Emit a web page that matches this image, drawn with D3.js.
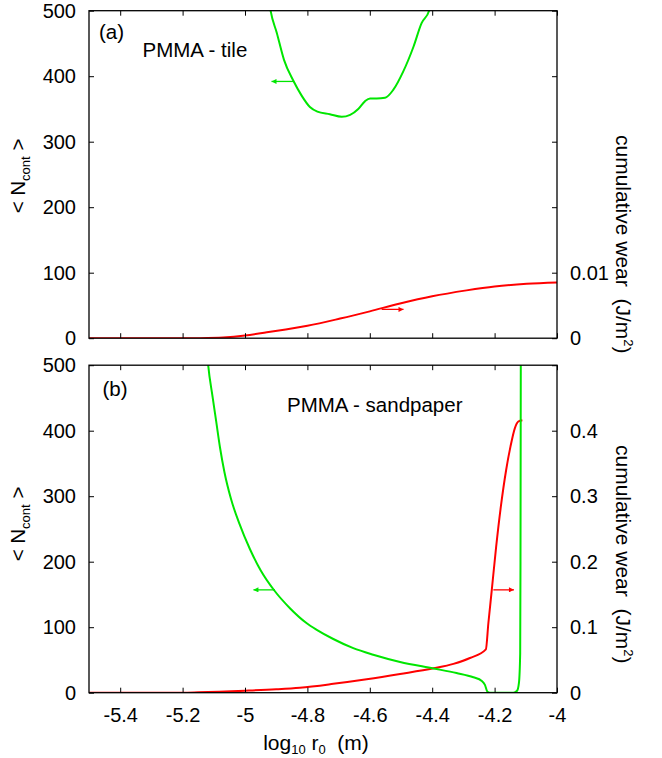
<!DOCTYPE html>
<html><head><meta charset="utf-8">
<script src="https://cdn.jsdelivr.net/npm/d3@7"></script>
<style>
body{margin:0;background:#fff}
svg{display:block}
text{font-family:"Liberation Sans",Arial,Helvetica,sans-serif;fill:#000}
</style>
</head><body>
<script>
// ---------- data ----------
const xTicks = [-5.4, -5.2, -5.0, -4.8, -4.6, -4.4, -4.2, -4.0];
const xTickLabels = ["-5.4", "-5.2", "-5", "-4.8", "-4.6", "-4.4", "-4.2", "-4"];
const nTicks = [0, 100, 200, 300, 400, 500];
const wearTicksTile = [0, 0.01];
const wearTickLabelsTile = ["0", "0.01"];
const wearTicksSand = [0, 0.1, 0.2, 0.3, 0.4];
const wearTickLabelsSand = ["0", "0.1", "0.2", "0.3", "0.4"];

// (a) PMMA - tile
const tileContX = [-4.935, -4.918, -4.898, -4.875, -4.845, -4.818, -4.792, -4.768, -4.728, -4.690, -4.663, -4.637, -4.615, -4.599, -4.578, -4.551, -4.525, -4.493, -4.460, -4.434, -4.410, -4.395];
const tileContN = [560, 500, 466, 425, 393, 370, 353, 346, 342, 338, 341, 350, 362, 366, 366, 367, 379, 407, 445, 481, 500, 530];
const tileWearX = [-5.5, -5.3, -5.15, -5.07, -5.0, -4.93, -4.8, -4.695, -4.6, -4.503, -4.4, -4.29, -4.2, -4.097, -4.0];
const tileWearW = [0, 0, 0, 0.0001, 0.0004, 0.0009, 0.0019, 0.003, 0.0041, 0.0053, 0.0064, 0.0073, 0.0079, 0.0083, 0.0085];

// (b) PMMA - sandpaper
const sandContX = [-5.125, -5.118, -5.104, -5.092, -5.080, -5.066, -5.045, -5.018, -4.984, -4.950, -4.906, -4.856, -4.802, -4.770, -4.717, -4.653, -4.589, -4.503, -4.396, -4.322, -4.268, -4.241, -4.231, -4.223, -4.215, -4.14, -4.128, -4.122, -4.118, -4.117, -4.116];
const sandContN = [540, 500, 452, 413, 374, 337, 296, 258, 219, 187, 156, 129, 106, 96, 82, 68, 58, 47, 37, 30, 23.5, 18, 12, 1.5, 0, 0, 3, 15, 60, 200, 520];
const sandWearX = [-5.5, -5.2, -5.15, -5.0, -4.9, -4.824, -4.717, -4.610, -4.503, -4.396, -4.332, -4.279, -4.228, -4.220, -4.209, -4.195, -4.180, -4.163, -4.149, -4.135, -4.124, -4.111];
const sandWearW = [0, 0, 0.0005, 0.003, 0.0052, 0.0076, 0.0135, 0.0205, 0.0285, 0.0372, 0.044, 0.053, 0.0662, 0.106, 0.157, 0.223, 0.284, 0.340, 0.376, 0.404, 0.414, 0.416];

// arrows: [x from, x to, value]
const tileContArrow = [-4.845, -4.915, 392];
const tileWearArrow = [-4.562, -4.492, 0.0044];
const sandContArrow = [-4.904, -4.973, 157];
const sandWearArrow = [-4.204, -4.138, 0.157];

// ---------- drawing ----------
const W = 662, H = 758;
const GREEN = "#00e600", RED = "#ff0000";
const FONT = '"Liberation Sans",Arial,Helvetica,sans-serif';
const svg = d3.select("body").append("svg").attr("width", W).attr("height", H);
const defs = svg.append("defs");
[["arrG", GREEN], ["arrR", RED]].forEach(([id, c]) => {
  defs.append("marker").attr("id", id).attr("viewBox", "0 0 10 10")
    .attr("refX", 10).attr("refY", 5).attr("markerWidth", 6).attr("markerHeight", 5)
    .attr("markerUnits", "userSpaceOnUse").attr("orient", "auto")
    .append("path").attr("d", "M0,0L10,5L0,10Z").attr("fill", c);
});

const x = d3.scaleLinear().domain([-5.5, -4.0]).range([89, 557]);

function drawPanel(cfg) {
  const yN = d3.scaleLinear().domain([0, 500]).range([cfg.y1, cfg.y0]);
  const yW = d3.scaleLinear().domain([0, cfg.wMax]).range([cfg.y1, cfg.y0]);
  const g = svg.append("g");
  const clipId = "clip" + cfg.id;
  defs.append("clipPath").attr("id", clipId).append("rect")
    .attr("x", x.range()[0]).attr("y", cfg.y0)
    .attr("width", x.range()[1] - x.range()[0]).attr("height", cfg.y1 - cfg.y0);

  const plot = g.append("g").attr("clip-path", `url(#${clipId})`);
  const lineN = d3.line().x(d => x(d[0])).y(d => yN(d[1])).curve(d3.curveMonotoneX);
  const lineW = d3.line().x(d => x(d[0])).y(d => yW(d[1])).curve(cfg.wearCurve);
  plot.append("path").datum(d3.zip(cfg.wearX, cfg.wearW)).attr("d", lineW)
    .attr("fill", "none").attr("stroke", RED).attr("stroke-width", 2);
  plot.append("path").datum(d3.zip(cfg.contX, cfg.contN)).attr("d", lineN)
    .attr("fill", "none").attr("stroke", GREEN).attr("stroke-width", 2);

  // arrows
  g.append("line").attr("x1", x(cfg.contArrow[0])).attr("x2", x(cfg.contArrow[1]))
    .attr("y1", yN(cfg.contArrow[2])).attr("y2", yN(cfg.contArrow[2]))
    .attr("stroke", GREEN).attr("stroke-width", 1.3).attr("marker-end", "url(#arrG)");
  g.append("line").attr("x1", x(cfg.wearArrow[0])).attr("x2", x(cfg.wearArrow[1]))
    .attr("y1", yW(cfg.wearArrow[2])).attr("y2", yW(cfg.wearArrow[2]))
    .attr("stroke", RED).attr("stroke-width", 1.3).attr("marker-end", "url(#arrR)");

  // axes
  const styleAxis = sel => {
    sel.attr("font-family", FONT).attr("font-size", 20);
    sel.select(".domain").remove();
    sel.selectAll(".tick line").attr("stroke", "#000").attr("stroke-width", 1);
  };
  g.append("g").attr("transform", `translate(${x.range()[0]},0)`)
    .call(d3.axisLeft(yN).tickValues(nTicks).tickSizeInner(-5).tickSizeOuter(0).tickPadding(13).tickFormat(d3.format("d")))
    .call(styleAxis);
  g.append("g").attr("transform", `translate(${x.range()[1]},0)`)
    .call(d3.axisRight(yN).tickValues(nTicks).tickSizeInner(-5).tickSizeOuter(0).tickFormat(""))
    .call(styleAxis);
  g.append("g").attr("transform", `translate(${x.range()[1]},0)`)
    .call(d3.axisRight(yW).tickValues(cfg.wTicks).tickSizeInner(0).tickSizeOuter(0).tickPadding(13)
      .tickFormat((d, i) => cfg.wLabels[i]))
    .call(styleAxis);
  g.append("g").attr("transform", `translate(0,${cfg.y1})`)
    .call(d3.axisBottom(x).tickValues(xTicks).tickSizeInner(-5).tickSizeOuter(0).tickPadding(15)
      .tickFormat((d, i) => cfg.showX ? xTickLabels[i] : ""))
    .call(styleAxis);
  g.append("g").attr("transform", `translate(0,${cfg.y0})`)
    .call(d3.axisTop(x).tickValues(xTicks).tickSizeInner(-5).tickSizeOuter(0).tickFormat(""))
    .call(styleAxis);

  // border
  g.append("rect").attr("x", x.range()[0]).attr("y", cfg.y0)
    .attr("width", x.range()[1] - x.range()[0]).attr("height", cfg.y1 - cfg.y0)
    .attr("fill", "none").attr("stroke", "#000").attr("stroke-width", 1.3);

  // panel texts
  g.append("text").attr("x", cfg.tagX).attr("y", cfg.tagY).attr("font-size", 20.5).text(cfg.tag);
  g.append("text").attr("x", cfg.titleX).attr("y", cfg.titleY).attr("font-size", 20.5)
    .style("white-space", "pre").text(cfg.title);

  // left label  < N_cont >
  const ll = g.append("text").attr("transform", `translate(25,${cfg.leftLabelY}) rotate(-90)`)
    .attr("text-anchor", "middle").attr("font-size", 20.5).style("white-space", "pre");
  ll.append("tspan").text("< N");
  ll.append("tspan").attr("font-size", 13).attr("dy", 5).text("cont");
  ll.append("tspan").attr("dy", -5).text(" >");

  // right label
  const rl = g.append("text").attr("transform", `translate(616,${cfg.rightLabelY}) rotate(90)`)
    .attr("text-anchor", "start").attr("font-size", 21).style("white-space", "pre");
  rl.append("tspan").text("cumulative wear  (J/m");
  rl.append("tspan").attr("font-size", 13).attr("dy", -8).text("2");
  rl.append("tspan").attr("dy", 8).text(")");
}

drawPanel({
  id: "a", y0: 10.7, y1: 338.2, wMax: 0.05, wTicks: wearTicksTile, wLabels: wearTickLabelsTile,
  contX: tileContX, contN: tileContN, wearX: tileWearX, wearW: tileWearW,
  wearCurve: d3.curveCatmullRom.alpha(0.5),
  contArrow: tileContArrow, wearArrow: tileWearArrow, showX: false,
  tag: "(a)", tagX: 99, tagY: 38.5, title: "PMMA - tile", titleX: 142.5, titleY: 57,
  leftLabelY: 176, rightLabelY: 135
});
drawPanel({
  id: "b", y0: 365.2, y1: 692.7, wMax: 0.5, wTicks: wearTicksSand, wLabels: wearTickLabelsSand,
  contX: sandContX, contN: sandContN, wearX: sandWearX, wearW: sandWearW,
  wearCurve: d3.curveMonotoneX,
  contArrow: sandContArrow, wearArrow: sandWearArrow, showX: true,
  tag: "(b)", tagX: 102.5, tagY: 396, title: "PMMA - sandpaper", titleX: 287, titleY: 412,
  leftLabelY: 524, rightLabelY: 445
});

// x-axis title: log10 r0  (m)
const xl = svg.append("text").attr("x", 316).attr("y", 750).attr("text-anchor", "middle")
  .attr("font-size", 21).style("white-space", "pre");
xl.append("tspan").text("log");
xl.append("tspan").attr("font-size", 13).attr("dy", 4).text("10");
xl.append("tspan").attr("dy", -4).text(" r");
xl.append("tspan").attr("font-size", 13).attr("dy", 4).text("0");
xl.append("tspan").attr("dy", -4).text("  (m)");
</script>
</body></html>
